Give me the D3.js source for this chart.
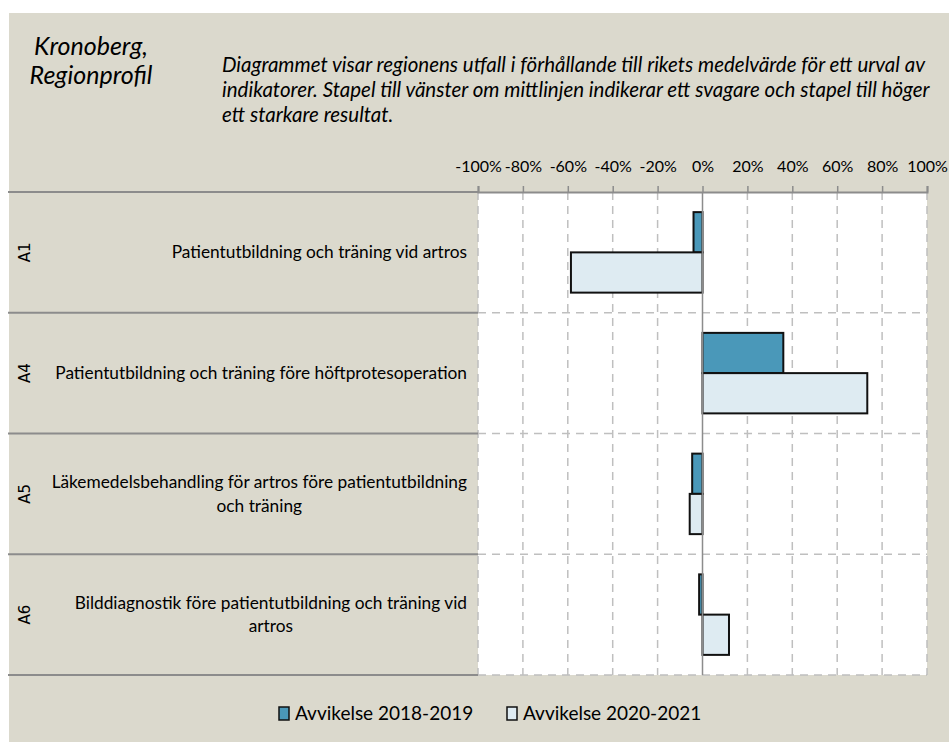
<!DOCTYPE html>
<html>
<head>
<meta charset="utf-8">
<script src="https://cdn.jsdelivr.net/npm/d3@7"></script>
<style>
  body { margin: 0; background: #ffffff; }
  svg { display: block; font-family: Lato, "Open Sans", sans-serif; }
</style>
</head>
<body>
<div class="chart"></div>
<script>
// data
const codes = ["A1", "A4", "A5", "A6"];
const labels = [
	["Patientutbildning och träning vid artros"],
	["Patientutbildning och träning före höftprotesoperation"],
	["Läkemedelsbehandling för artros före patientutbildning", "och träning"],
	["Bilddiagnostik före patientutbildning och träning vid", "artros"]
];
const seriesNames = ["Avvikelse 2018-2019", "Avvikelse 2020-2021"];
const dev2018 = [-4, 36, -4.6, -1.5];
const dev2020 = [-58.6, 73.4, -5.7, 11.8];
const tickValues = [-100, -80, -60, -40, -20, 0, 20, 40, 60, 80, 100];

const colors = ["#4a98b9", "#deebf2"];

const width = 949, height = 742;
const svg = d3.select(".chart").append("svg")
	.attr("width", width)
	.attr("height", height);

// panel background
svg.append("rect")
	.attr("x", 9).attr("y", 13)
	.attr("width", width - 9).attr("height", height - 13)
	.attr("fill", "#dbd9cd");

// header texts
svg.append("text")
	.attr("x", 91).attr("y", 55)
	.attr("text-anchor", "middle")
	.attr("font-size", "25px").attr("font-style", "italic")
	.text("Kronoberg,");
svg.append("text")
	.attr("x", 91).attr("y", 84)
	.attr("text-anchor", "middle")
	.attr("font-size", "25px").attr("font-style", "italic")
	.text("Regionprofil");

const desc = [
	"Diagrammet visar regionens utfall i förhållande till rikets medelvärde för ett urval av",
	"indikatorer. Stapel till vänster om mittlinjen indikerar ett svagare och stapel till höger",
	"ett starkare resultat."
];
svg.selectAll(".desc")
	.data(desc)
	.enter()
	.append("text")
	.attr("class", "desc")
	.attr("x", 222)
	.attr("y", (d, i) => 72 + i * 25)
	.attr("font-size", "20.5px").attr("font-style", "italic")
	.text(d => d);

// scales
const xScale = d3.scaleLinear()
	.domain([-100, 100])
	.range([478, 927]);

const yScale = d3.scaleBand()
	.domain(codes)
	.range([192, 675]);

const innerScale = d3.scaleBand()
	.domain([0, 1])
	.range([0, yScale.bandwidth()])
	.paddingInner(0)
	.paddingOuter(0.5);

// plot area
svg.append("rect")
	.attr("x", xScale(-100)).attr("y", 192)
	.attr("width", xScale(100) - xScale(-100))
	.attr("height", 675 - 192)
	.attr("fill", "white");

// vertical dashed grid
svg.selectAll(".vgrid")
	.data(tickValues.filter(d => d !== 0))
	.enter()
	.append("line")
	.attr("class", "vgrid")
	.attr("x1", d => xScale(d)).attr("x2", d => xScale(d))
	.attr("y1", 192).attr("y2", 675)
	.attr("stroke", "#bfbfbf")
	.attr("stroke-width", 1.5)
	.attr("stroke-dasharray", "8,6");

// category dividers: solid on the left, dashed in the plot
const bounds = codes.map(c => yScale(c)).concat([675]);
svg.selectAll(".hsolid")
	.data(bounds)
	.enter()
	.append("line")
	.attr("class", "hsolid")
	.attr("x1", 8).attr("x2", xScale(-100))
	.attr("y1", d => d).attr("y2", d => d)
	.attr("stroke", "#8c8c8c")
	.attr("stroke-width", 2);
svg.selectAll(".hdash")
	.data(bounds.slice(1))
	.enter()
	.append("line")
	.attr("class", "hdash")
	.attr("x1", xScale(-100)).attr("x2", xScale(100))
	.attr("y1", d => d).attr("y2", d => d)
	.attr("stroke", "#bfbfbf")
	.attr("stroke-width", 1.5)
	.attr("stroke-dasharray", "8,6");

// top axis
const xAxis = d3.axisTop(xScale)
	.tickValues(tickValues)
	.tickSize(6)
	.tickPadding(14)
	.tickFormat(d => d + "%");
const axisG = svg.append("g")
	.attr("class", "axis x-axis")
	.attr("transform", "translate(0,192)")
	.call(xAxis);
axisG.select(".domain").attr("stroke", "#8c8c8c").attr("stroke-width", 2);
axisG.selectAll(".tick line").attr("stroke", "#8c8c8c").attr("stroke-width", 1.5);
axisG.selectAll(".tick text")
	.attr("font-family", "Lato, sans-serif")
	.attr("font-size", "16px")
	.attr("fill", "#000");

// bars
const rows = codes.map((c, i) => ({code: c, vals: [dev2018[i], dev2020[i]]}));
const groups = svg.selectAll(".cat")
	.data(rows)
	.enter()
	.append("g")
	.attr("class", "cat")
	.attr("transform", d => `translate(0,${yScale(d.code)})`);

groups.selectAll("rect")
	.data(d => d.vals)
	.enter()
	.append("rect")
	.attr("x", d => xScale(Math.min(0, d)))
	.attr("y", (d, i) => innerScale(i))
	.attr("width", d => Math.abs(xScale(d) - xScale(0)))
	.attr("height", innerScale.bandwidth())
	.attr("fill", (d, i) => colors[i])
	.attr("stroke", "#111")
	.attr("stroke-width", 2);

// zero line
svg.append("line")
	.attr("x1", xScale(0)).attr("x2", xScale(0))
	.attr("y1", 192).attr("y2", 675)
	.attr("stroke", "#8c8c8c")
	.attr("stroke-width", 1.5);

// category codes, rotated
svg.selectAll(".code")
	.data(codes)
	.enter()
	.append("text")
	.attr("class", "code")
	.attr("transform", d => `translate(30,${yScale(d) + yScale.bandwidth() / 2}) rotate(-90)`)
	.attr("text-anchor", "middle")
	.attr("font-family", "'DejaVu Sans', sans-serif")
	.attr("font-size", "15px")
	.text(d => d);

// category labels, block right-aligned and lines centred
codes.forEach((c, i) => {
	const lines = labels[i];
	const cy = yScale(c) + yScale.bandwidth() / 2;
	const t = svg.append("text")
		.attr("font-size", "17.3px")
		.attr("text-anchor", "middle");
	const spans = lines.map((l, j) => t.append("tspan")
		.attr("y", cy + 6 + (j - (lines.length - 1) / 2) * 23.5)
		.text(l));
	const maxW = d3.max(spans, s => s.node().getComputedTextLength());
	spans.forEach(s => s.attr("x", 467 - maxW / 2));
});

// legend
const legend = svg.append("g").attr("transform", "translate(0,713)");
const legX = [279, 507];
seriesNames.forEach((name, i) => {
	legend.append("rect")
		.attr("x", legX[i]).attr("y", -6)
		.attr("width", 10).attr("height", 13)
		.attr("fill", colors[i])
		.attr("stroke", "#111")
		.attr("stroke-width", 1.5);
	legend.append("text")
		.attr("x", legX[i] + 16).attr("y", 6.5)
		.attr("font-size", "19px")
		.text(name);
});
</script>
</body>
</html>
